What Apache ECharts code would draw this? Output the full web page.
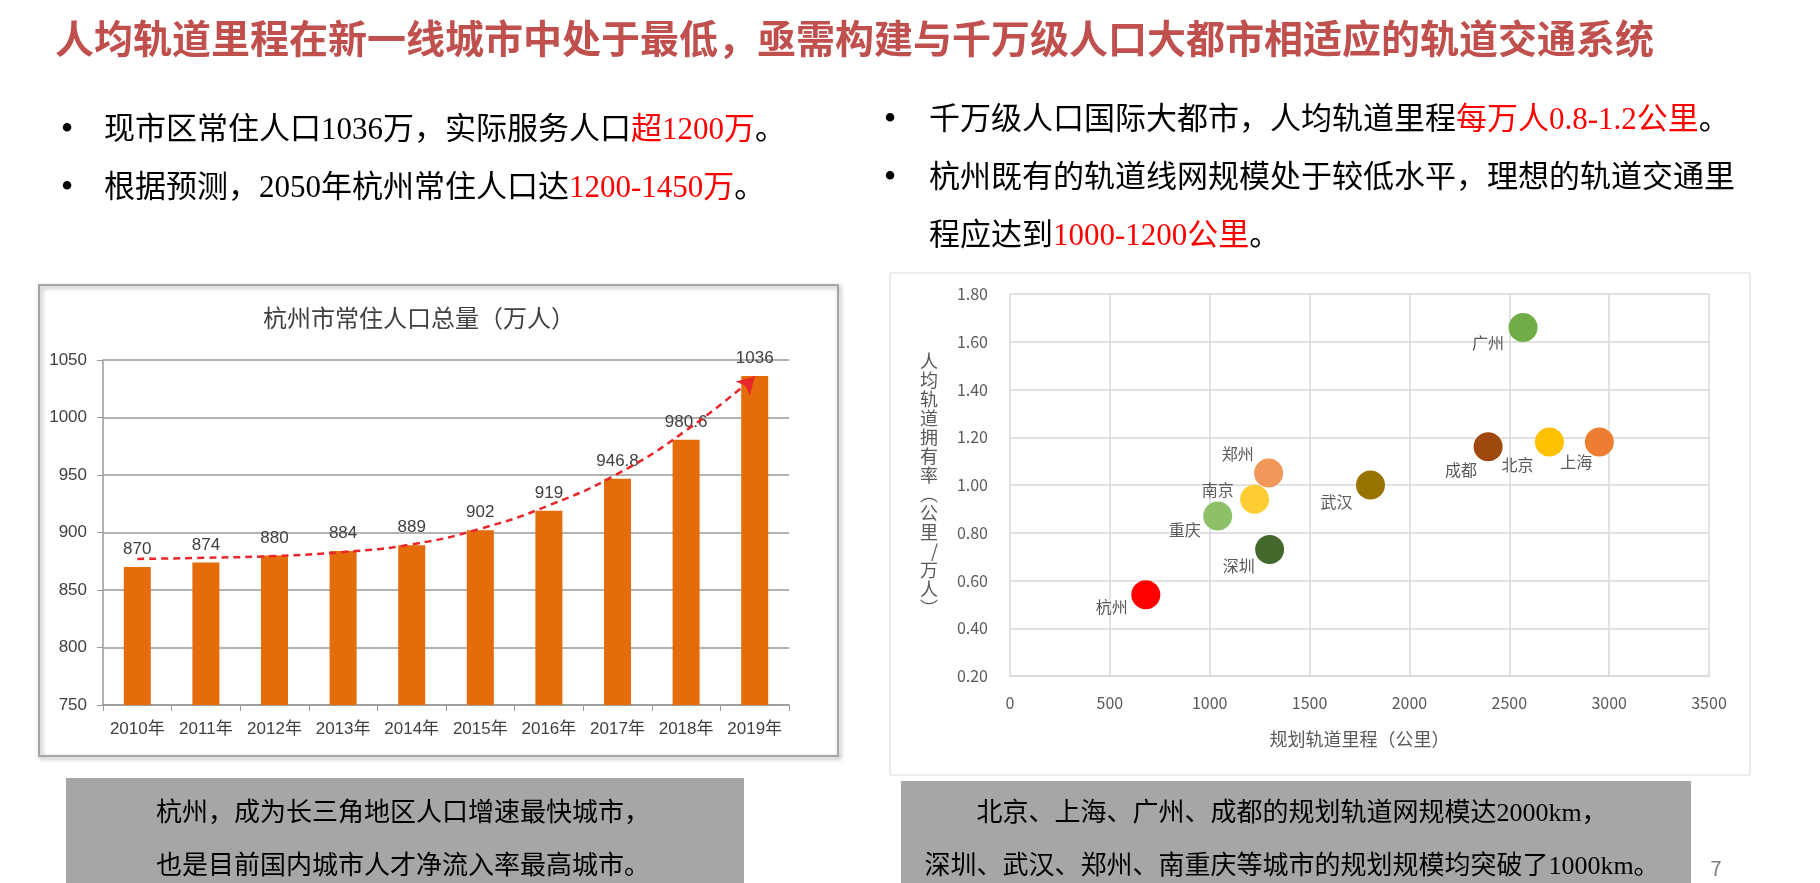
<!DOCTYPE html>
<html>
<head>
<meta charset="utf-8">
<title>人均轨道里程</title>
<script src="https://cdn.jsdelivr.net/npm/echarts@6/dist/echarts.min.js"></script>
<style>
html, body { margin: 0; padding: 0; background: #fff; }
#main { width: 1820px; height: 883px; }
</style>
</head>
<body>
<div id="main"></div>
<script>
// 左图：杭州市常住人口总量（万人）
const years = ['2010年', '2011年', '2012年', '2013年', '2014年', '2015年', '2016年', '2017年', '2018年', '2019年'];
const population = [870, 874, 880, 884, 889, 902, 919, 946.8, 980.6, 1036];
// 红色虚线趋势箭头
const trendLine = [877, 878, 879.6, 883, 889.7, 903.3, 923.6, 951, 988.7, 1035.5];

// 右图：规划轨道里程 vs 人均轨道拥有率
const cities = ['杭州', '重庆', '南京', '郑州', '深圳', '武汉', '成都', '广州', '北京', '上海'];
const railKm = [680, 1040, 1225, 1295, 1300, 1805, 2394, 2569, 2701, 2951];
const railPerCapita = [0.54, 0.87, 0.94, 1.05, 0.73, 1.00, 1.16, 1.66, 1.18, 1.18];

// 样式
const cityColors = ['#FF0000', '#8CC168', '#FFCD33', '#F1975A', '#43682B', '#997300', '#9E480E', '#70AD47', '#FFC000', '#ED7D31'];
const labelOffsets = [[-34, 12], [-33, 14], [-37, -9], [-31, -19], [-31, 16], [-34, 17], [-27, 23], [-35, 15], [-32, 23], [-23, 20]];

const CJK = '"Noto Sans CJK SC"';
const SERIF = '"Liberation Serif", "Noto Sans CJK SC"';
const NARROW = '"Liberation Sans Narrow", "Liberation Sans", "Noto Sans CJK SC"';

const chart = echarts.init(document.getElementById('main'));

function bodyText(x, y, text, size) {
    return {
        type: 'text',
        x: x,
        y: y,
        style: {
            text: text,
            fill: '#000',
            fontSize: size,
            fontFamily: SERIF,
            verticalAlign: 'middle',
            rich: {
                r: { fill: '#ff0000', fontSize: size, fontFamily: SERIF }
            }
        }
    };
}

function bullet(x, y) {
    return {
        type: 'text',
        x: x,
        y: y,
        style: { text: '•', fill: '#000', fontSize: 36, fontFamily: SERIF, align: 'center', verticalAlign: 'middle' }
    };
}

function boxText(x, y, text) {
    return {
        type: 'text',
        x: x,
        y: y,
        style: { text: text, fill: '#000', fontSize: 26, fontFamily: SERIF, align: 'center', verticalAlign: 'middle' }
    };
}

const option = {
    animation: false,
    backgroundColor: '#fff',
    title: {
        text: '人均轨道里程在新一线城市中处于最低，亟需构建与千万级人口大都市相适应的轨道交通系统',
        left: 50,
        top: 14,
        textStyle: { color: '#C0504D', fontSize: 39, fontWeight: 'bold', fontFamily: CJK }
    },
    grid: [
        { left: 103, top: 360, width: 686, height: 345 },
        { left: 1010, top: 294, width: 699, height: 382 }
    ],
    xAxis: [
        {
            gridIndex: 0,
            type: 'category',
            data: years,
            axisLine: { lineStyle: { color: '#999', width: 1.5 } },
            axisTick: { show: true, length: 6, lineStyle: { color: '#999' } },
            axisLabel: { interval: 0, color: '#404040', fontSize: 17, fontFamily: NARROW, margin: 16 }
        },
        {
            gridIndex: 1,
            type: 'value',
            min: 0,
            max: 3500,
            interval: 500,
            axisLine: { show: true, lineStyle: { color: '#d9d9d9', width: 1.5 } },
            axisTick: { show: false },
            splitLine: { show: true, lineStyle: { color: '#d9d9d9', width: 1.5 } },
            axisLabel: { color: '#595959', fontSize: 16, fontFamily: CJK, margin: 19, formatter: v => String(v) },
            name: '规划轨道里程（公里）',
            nameLocation: 'middle',
            nameGap: 54,
            nameTextStyle: { color: '#595959', fontSize: 18, fontFamily: CJK }
        }
    ],
    yAxis: [
        {
            gridIndex: 0,
            type: 'value',
            min: 750,
            max: 1050,
            interval: 50,
            axisLine: { show: true, lineStyle: { color: '#999', width: 1.5 } },
            axisTick: { show: true, length: 6, lineStyle: { color: '#999' } },
            splitLine: { show: true, lineStyle: { color: '#999', width: 1.5 } },
            axisLabel: { color: '#404040', fontSize: 17, fontFamily: NARROW, margin: 16, formatter: v => String(v) }
        },
        {
            gridIndex: 1,
            type: 'value',
            min: 0.2,
            max: 1.8,
            interval: 0.2,
            axisLine: { show: false },
            axisTick: { show: false },
            splitLine: { show: true, lineStyle: { color: '#d9d9d9', width: 1.5 } },
            axisLabel: {
                color: '#595959',
                fontSize: 16,
                fontFamily: CJK,
                margin: 22,
                formatter: v => v.toFixed(2)
            },
            name: '人均轨道拥有率︵公里/万人︶'.split('').join('\n'),
            nameLocation: 'middle',
            nameRotate: 0,
            nameGap: 72,
            nameTextStyle: { color: '#595959', fontSize: 18, lineHeight: 19, fontFamily: CJK }
        }
    ],
    series: [
        {
            type: 'bar',
            xAxisIndex: 0,
            yAxisIndex: 0,
            data: population,
            barWidth: 27,
            itemStyle: { color: '#E46C0A' },
            label: {
                show: true,
                position: 'top',
                distance: 9,
                color: '#404040',
                fontSize: 17,
                fontFamily: NARROW
            }
        },
        {
            type: 'line',
            xAxisIndex: 0,
            yAxisIndex: 0,
            data: trendLine,
            smooth: true,
            symbol: 'arrow',
            symbolSize: (val, params) => (params.dataIndex === trendLine.length - 1 ? [15, 17] : 0),
            symbolRotate: -45,
            showSymbol: true,
            itemStyle: { color: '#E8262B' },
            lineStyle: { color: '#E8262B', width: 2.5, type: [7, 5] },
            z: 5
        },
        {
            type: 'scatter',
            xAxisIndex: 1,
            yAxisIndex: 1,
            symbolSize: 29,
            data: cities.map((c, i) => ({
                name: c,
                value: [railKm[i], railPerCapita[i]],
                itemStyle: { color: cityColors[i], opacity: 1 },
                label: { offset: labelOffsets[i] }
            })),
            itemStyle: { opacity: 1 },
            label: {
                show: true,
                position: 'inside',
                formatter: '{b}',
                color: '#595959',
                fontSize: 16,
                fontFamily: CJK
            }
        }
    ],
    graphic: [
        // 左图外框
        {
            type: 'rect',
            shape: { x: 39, y: 285, width: 799, height: 471 },
            style: {
                fill: null,
                stroke: '#a6a6a6',
                lineWidth: 2,
                shadowBlur: 4,
                shadowOffsetX: 2,
                shadowOffsetY: 2,
                shadowColor: 'rgba(0,0,0,0.35)'
            }
        },
        {
            type: 'text',
            x: 419,
            y: 321,
            style: {
                text: '杭州市常住人口总量（万人）',
                fill: '#404040',
                fontSize: 24,
                fontFamily: SERIF,
                align: 'center',
                verticalAlign: 'middle'
            }
        },
        // 右图外框
        {
            type: 'rect',
            shape: { x: 890, y: 273, width: 860, height: 502 },
            style: { fill: null, stroke: '#d9d9d9', lineWidth: 1 }
        },
        // 要点
        bullet(67, 131),
        bodyText(104, 131, '现市区常住人口1036万，实际服务人口{r|超1200万}。', 31),
        bullet(67, 189),
        bodyText(104, 189, '根据预测，2050年杭州常住人口达{r|1200-1450万}。', 31),
        bullet(890, 121),
        bodyText(929, 121, '千万级人口国际大都市，人均轨道里程{r|每万人0.8-1.2公里}。', 31),
        bullet(890, 179),
        bodyText(929, 179, '杭州既有的轨道线网规模处于较低水平，理想的轨道交通里', 31),
        bodyText(929, 237, '程应达到{r|1000-1200公里}。', 31),
        // 底部灰框
        {
            type: 'rect',
            shape: { x: 66, y: 778, width: 678, height: 105 },
            style: { fill: '#A6A6A6' }
        },
        boxText(403, 814, '杭州，成为长三角地区人口增速最快城市，'),
        boxText(403, 867, '也是目前国内城市人才净流入率最高城市。'),
        {
            type: 'rect',
            shape: { x: 901, y: 781, width: 790, height: 102 },
            style: { fill: '#A6A6A6' }
        },
        boxText(1292, 814, '北京、上海、广州、成都的规划轨道网规模达2000km，'),
        boxText(1292, 867, '深圳、武汉、郑州、南重庆等城市的规划规模均突破了1000km。'),
        {
            type: 'text',
            x: 1716,
            y: 868,
            style: { text: '7', fill: '#7f7f7f', fontSize: 20, fontFamily: CJK, align: 'center', verticalAlign: 'middle' }
        }
    ]
};

chart.setOption(option);
</script>
</body>
</html>
